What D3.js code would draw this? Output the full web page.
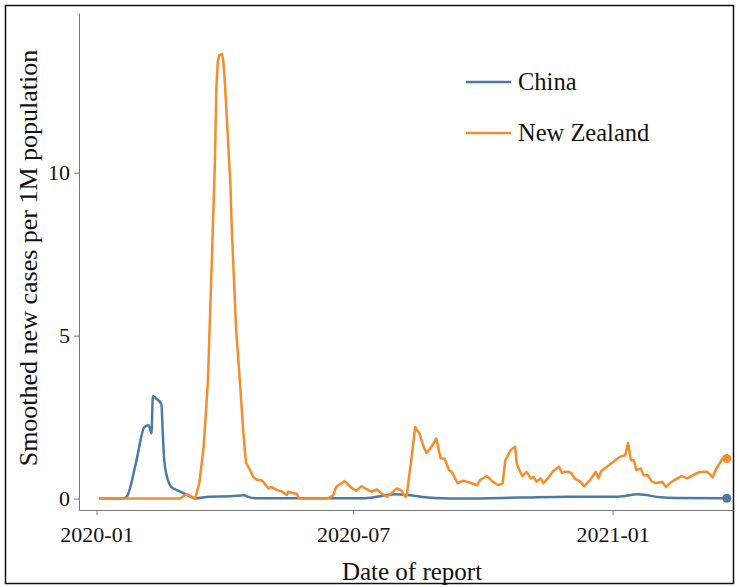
<!DOCTYPE html>
<html>
<head>
<meta charset="utf-8">
<script src="https://cdn.jsdelivr.net/npm/d3@7"></script>
<style>
  body { margin: 0; background: #fff; }
  svg { display: block; }
  .tick text { font-family: "Liberation Serif", "Times New Roman", serif; font-size: 22px; fill: #111; }
  .axis path, .axis line { stroke: #777; }
</style>
</head>
<body>
<svg></svg>
<script>
// day offsets from 2020-01-01 and smoothed cases per 1M
let chinaDays = [2, 19, 22, 28, 34, 37, 39, 40, 42, 46, 47, 48, 50, 53, 57, 62, 66, 70, 80, 95, 105, 107, 113, 190, 212, 240, 260, 300, 334, 370, 384, 400, 410, 447];
let chinaVals = [0, 0, 0.1, 1.1, 2.2, 2.25, 2.0, 3.15, 3.08, 2.9, 2.0, 1.2, 0.67, 0.36, 0.26, 0.16, 0.07, 0.01, 0.06, 0.07, 0.1, 0.06, 0.01, 0.01, 0.13, 0.02, 0.0, 0.03, 0.06, 0.06, 0.13, 0.04, 0.02, 0.01];

let nzDays = [2, 59, 62, 64, 67, 70, 73, 76, 79, 82, 84, 85, 86, 87, 89, 90, 91, 93, 95, 96, 99, 102, 104, 106, 109, 111, 114, 117, 119, 122, 124, 128, 131, 135, 136, 140, 142, 143, 145, 163, 166, 168, 170, 173, 176, 180, 184, 188, 192, 195, 199, 202, 206, 209, 213, 216, 219, 220, 223, 226, 229, 232, 234, 236, 239, 241, 244, 247, 250, 252, 256, 260, 264, 270, 272, 277, 281, 285, 288, 290, 294, 297, 298, 300, 302, 305, 308, 310, 312, 315, 317, 320, 324, 328, 330, 332, 335, 337, 339, 343, 346, 350, 354, 356, 358, 362, 365, 368, 371, 375, 377, 379, 381, 383, 386, 388, 391, 394, 397, 401, 404, 408, 412, 415, 419, 422, 426, 430, 433, 435, 437, 439, 444, 447];
let nzVals = [0, 0, 0.08, 0.13, 0.07, 0, 0.5, 1.6, 3.6, 7.6, 10.4, 12.6, 13.4, 13.6, 13.65, 13.4, 12.8, 11.2, 9.6, 8.2, 5.2, 3.4, 2.1, 1.1, 0.87, 0.67, 0.57, 0.57, 0.47, 0.31, 0.36, 0.26, 0.23, 0.11, 0.21, 0.16, 0.16, 0.04, 0, 0, 0.05, 0.11, 0.36, 0.45, 0.54, 0.36, 0.24, 0.38, 0.28, 0.21, 0.28, 0.16, 0.06, 0.16, 0.31, 0.26, 0.05, 0.1, 1.1, 2.2, 2.0, 1.59, 1.4, 1.49, 1.69, 1.85, 1.24, 1.22, 0.87, 0.82, 0.47, 0.55, 0.5, 0.41, 0.57, 0.69, 0.52, 0.41, 0.47, 1.18, 1.5, 1.59, 1.08, 0.87, 0.69, 0.82, 0.62, 0.67, 0.52, 0.62, 0.47, 0.62, 0.85, 0.98, 0.79, 0.82, 0.82, 0.77, 0.62, 0.52, 0.38, 0.57, 0.82, 0.62, 0.85, 0.98, 1.08, 1.18, 1.28, 1.33, 1.71, 1.18, 1.18, 0.87, 0.93, 0.72, 0.72, 0.52, 0.47, 0.52, 0.36, 0.52, 0.62, 0.69, 0.62, 0.69, 0.79, 0.82, 0.82, 0.75, 0.65, 0.87, 1.23, 1.23];

let countries = ["China", "New Zealand"];
let colors = ["#4e79a7", "#f28e2b"];
let yTicks = [0, 5, 10];
let xTickDates = ["2020-01-01", "2020-07-01", "2021-01-01"];
let xTickLabels = ["2020-01", "2020-07", "2021-01"];

let width = 737;
let height = 587;
let svg = d3.select('svg').attr('width', width).attr('height', height);

let start = new Date(2020, 0, 1);
const toSeries = (days, vals) => days.map((d, i) => [d3.timeDay.offset(start, d), vals[i]]);
let series = [toSeries(chinaDays, chinaVals), toSeries(nzDays, nzVals)];

let xScale = d3.scaleTime()
  .domain([new Date(2019, 11, 19, 14), new Date(2021, 2, 27, 10)])
  .range([79, 733]);
let yScale = d3.scaleLinear()
  .domain([-0.35, 14.9])
  .range([510, 13]);

// frame round the whole picture
svg.append('rect')
  .attr('x', 5.5).attr('y', 5.5)
  .attr('width', 728).attr('height', 578)
  .attr('fill', 'none').attr('stroke', '#111').attr('stroke-width', 1.5);

let parse = d3.timeParse("%Y-%m-%d");
let xAxis = d3.axisBottom(xScale)
  .tickValues(xTickDates.map(parse))
  .tickFormat((d, i) => xTickLabels[i])
  .tickSize(5).tickSizeOuter(0).tickPadding(11);
let yAxis = d3.axisLeft(yScale)
  .tickValues(yTicks)
  .tickSize(5).tickSizeOuter(0).tickPadding(4);

svg.append('g').attr('class', 'axis')
  .attr('transform', 'translate(0,510)')
  .call(xAxis);
svg.append('g').attr('class', 'axis')
  .attr('transform', 'translate(79,0)')
  .call(yAxis);

const line = (curve) => d3.line()
  .x((d) => xScale(d[0]))
  .y((d) => yScale(d[1]))
  .curve(curve);

let curves = [d3.curveMonotoneX, d3.curveLinear];
series.forEach((s, i) => {
  svg.append('path')
     .attr('d', line(curves[i])(s))
     .attr('fill', 'none')
     .attr('stroke', colors[i])
     .attr('stroke-width', 2.5)
     .attr('stroke-linejoin', 'round');
  let last = s[s.length - 1];
  svg.append('circle')
     .attr('cx', xScale(last[0]))
     .attr('cy', yScale(last[1]))
     .attr('r', 4.5)
     .attr('fill', colors[i]);
});

// legend
countries.forEach((c, i) => {
  let ly = 82 + i * 51;
  svg.append('line')
     .attr('x1', 466).attr('x2', 511)
     .attr('y1', ly).attr('y2', ly)
     .attr('stroke', colors[i]).attr('stroke-width', 2.5);
  svg.append('text')
     .attr('x', 518).attr('y', ly + 8)
     .attr('font-family', '"Liberation Serif", serif')
     .attr('font-size', 24.5)
     .attr('fill', '#111')
     .text(c);
});

svg.append('text')
  .attr('x', 412).attr('y', 580)
  .attr('text-anchor', 'middle')
  .attr('font-family', '"Liberation Serif", serif')
  .attr('font-size', 25)
  .attr('fill', '#111')
  .text('Date of report');

svg.append('text')
  .attr('transform', 'translate(37,258) rotate(-90)')
  .attr('text-anchor', 'middle')
  .attr('font-family', '"Liberation Serif", serif')
  .attr('font-size', 26)
  .attr('fill', '#111')
  .text('Smoothed new cases per 1M population');
</script>
</body>
</html>
